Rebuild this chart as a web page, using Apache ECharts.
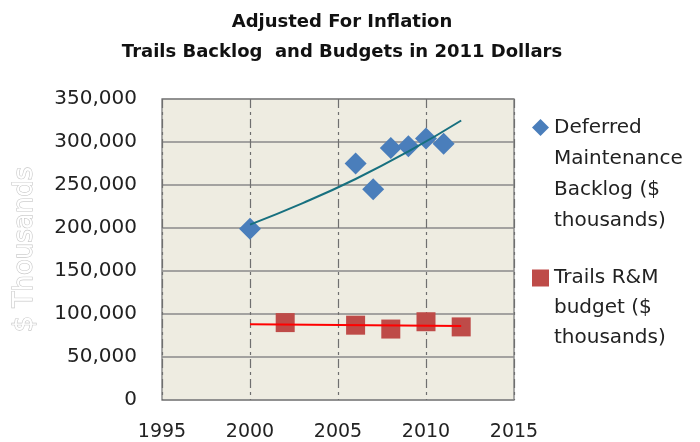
<!DOCTYPE html>
<html>
<head>
<meta charset="utf-8">
<script src="https://cdn.jsdelivr.net/npm/echarts@6/dist/echarts.min.js"></script>
<style>html,body{margin:0;padding:0;background:#fff;}#c{width:700px;height:442px;}</style>
</head>
<body>
<div id="c"></div>
<script>
var titleLines = ["Adjusted For Inflation", "Trails Backlog  and Budgets in 2011 Dollars"];
var yAxisName = "$ Thousands";
var deferredName = "Deferred Maintenance Backlog ($ thousands)";
var budgetName = "Trails R&M budget ($ thousands)";
var deferredLegendLines = ["Deferred", "Maintenance", "Backlog ($", "thousands)"];
var budgetLegendLines = ["Trails R&M", "budget ($", "thousands)"];

var deferredYears = [2000, 2006, 2007, 2008, 2009, 2010, 2011];
var deferredValues = [199000, 275000, 245000, 293000, 295000, 304000, 298000];
var budgetYears = [2002, 2006, 2008, 2010, 2012];
var budgetValues = [90000, 87000, 82500, 91000, 85000];
var deferredTrendYears = [2000, 2003, 2006, 2009, 2012];
var deferredTrendValues = [204000, 229000, 257000, 289000, 325000];
var budgetTrendYears = [2000, 2012];
var budgetTrendValues = [88000, 86000];

var xTicks = [1995, 2000, 2005, 2010, 2015];
var yTicks = [0, 50000, 100000, 150000, 200000, 250000, 300000, 350000];

function zip(a, b) { return a.map(function (v, i) { return [v, b[i]]; }); }
// Prepend blank lines so the first text line is centred on the legend icon
function legendText(lines) {
  var pad = [];
  for (var i = 1; i < lines.length; i++) pad.push('');
  return pad.concat(lines).join('\n');
}

var FONT = "DejaVu Sans";
var chart = echarts.init(document.getElementById('c'));
chart.setOption({
  animation: false,
  title: {
    text: titleLines.join('\n'),
    left: 337, top: 2,
    textAlign: 'center',
    textStyle: { fontFamily: FONT, fontWeight: 'bold', fontSize: 18, lineHeight: 30, color: '#111' }
  },
  grid: {
    left: 162, right: 186, top: 99, bottom: 42,
    show: true, backgroundColor: '#EEECE1', borderColor: '#8C8C8C', borderWidth: 1.5
  },
  legend: [{
    data: [{ name: deferredName, icon: 'diamond' }],
    orient: 'vertical', left: 527, top: 14,
    itemWidth: 17, itemHeight: 17, itemGap: 0,
    formatter: function () { return legendText(deferredLegendLines); },
    textStyle: { fontFamily: FONT, fontSize: 20, lineHeight: 31, color: '#222' }
  }, {
    data: [{ name: budgetName, icon: 'rect' }],
    orient: 'vertical', left: 527, top: 198,
    itemWidth: 17, itemHeight: 17, itemGap: 0,
    formatter: function () { return legendText(budgetLegendLines); },
    textStyle: { fontFamily: FONT, fontSize: 20, lineHeight: 30, color: '#222' }
  }],
  xAxis: {
    type: 'value', min: xTicks[0], max: xTicks[xTicks.length - 1], interval: 5,
    axisLine: { show: false }, axisTick: { show: false },
    axisLabel: { fontFamily: FONT, fontSize: 19, color: '#222', margin: 23, formatter: function (v) { return String(v); } },
    splitLine: { show: true, lineStyle: { color: '#6F6F6F', width: 1.2, type: [9, 4, 3, 4] } }
  },
  yAxis: {
    type: 'value', min: yTicks[0], max: yTicks[yTicks.length - 1], interval: 50000,
    name: yAxisName, nameLocation: 'middle', nameGap: 124, nameRotate: 90,
    nameTextStyle: { fontFamily: FONT, fontSize: 26, color: '#FFFFFF', textBorderColor: '#C8C8C8', textBorderWidth: 1.2 },
    axisLine: { show: false }, axisTick: { show: false },
    axisLabel: {
      fontFamily: FONT, fontSize: 20, color: '#222', margin: 25,
      formatter: function (v) { return v === 0 ? '0' : v.toLocaleString('en-US'); }
    },
    splitLine: { show: true, lineStyle: { color: '#8A8A8A', width: 1.5 } }
  },
  series: [{
    name: deferredName, type: 'scatter', symbol: 'diamond', symbolSize: 22,
    itemStyle: { color: '#4A7EBB', opacity: 1 }, data: zip(deferredYears, deferredValues), z: 2
  }, {
    name: budgetName, type: 'scatter', symbol: 'rect', symbolSize: 19,
    itemStyle: { color: '#BE4B48', opacity: 1 }, data: zip(budgetYears, budgetValues), z: 2
  }, {
    name: 'deferredTrend', type: 'line', smooth: true, showSymbol: false, symbol: 'none',
    lineStyle: { color: '#17707F', width: 2 }, data: zip(deferredTrendYears, deferredTrendValues), z: 3
  }, {
    name: 'budgetTrend', type: 'line', showSymbol: false, symbol: 'none',
    lineStyle: { color: '#FF0000', width: 2 }, data: zip(budgetTrendYears, budgetTrendValues), z: 3
  }]
});
</script>
</body>
</html>
